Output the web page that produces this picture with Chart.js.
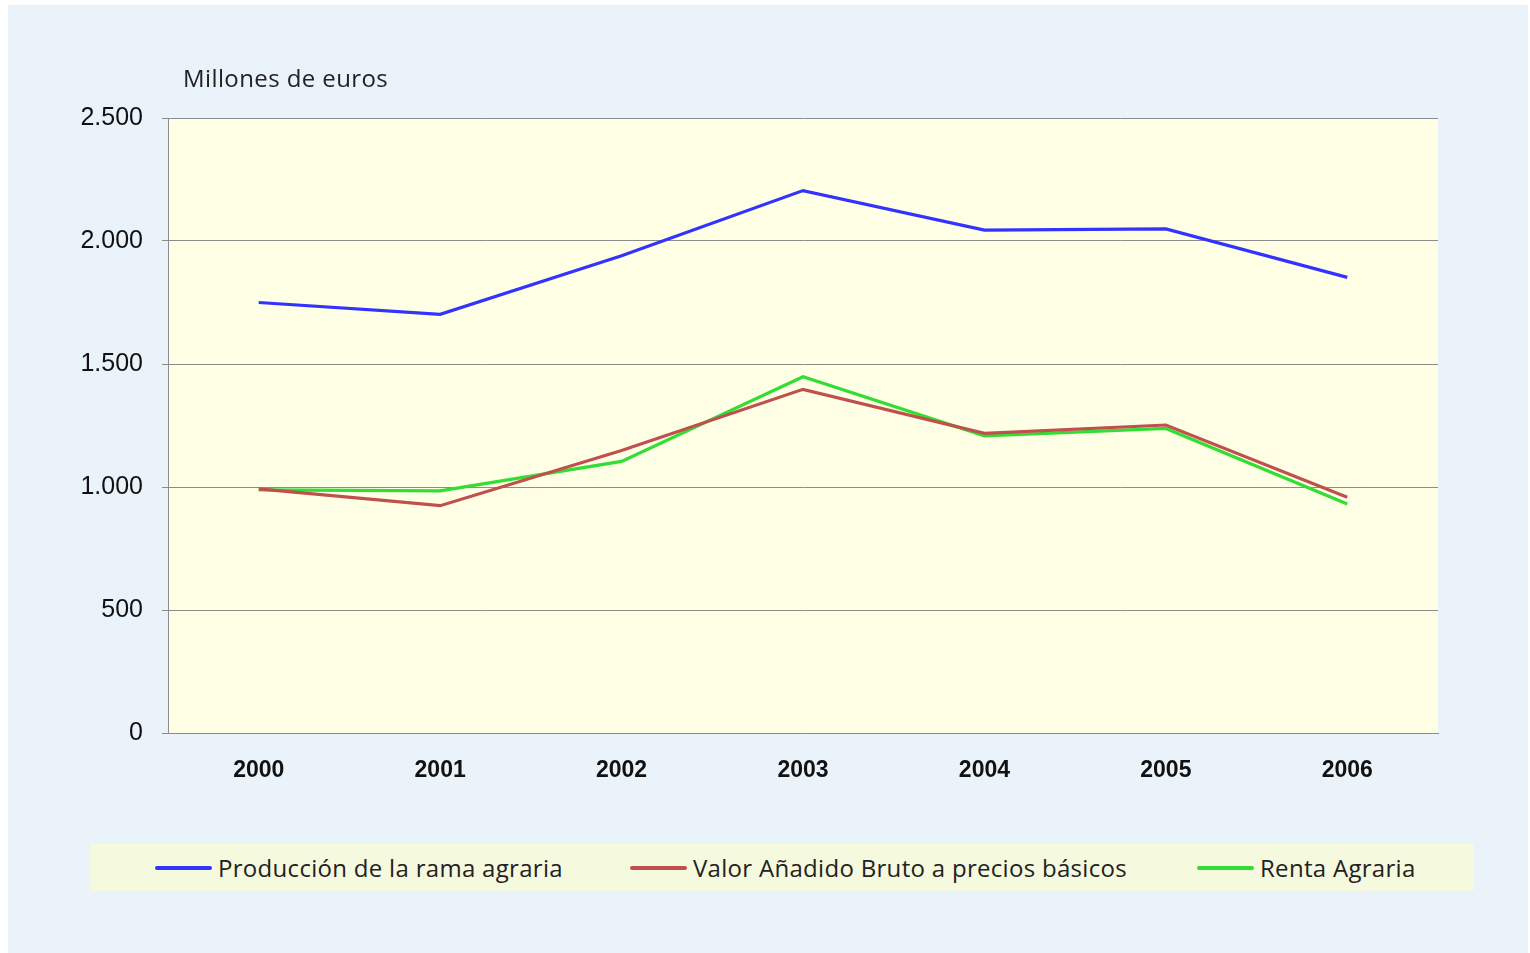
<!DOCTYPE html>
<html lang="es">
<head>
<meta charset="utf-8">
<title>Macromagnitudes agrarias 2000-2006</title>
<script src="https://cdn.jsdelivr.net/npm/chart.js@4.4.1/dist/chart.umd.min.js"></script>
<style>
  html, body { margin: 0; padding: 0; background: #ffffff; }
  body { width: 1530px; height: 953px; position: relative; overflow: hidden; }
  #panel { position: absolute; left: 8px; top: 5px; width: 1520px; height: 948px; background: #ebf3fa; }
  #panel canvas { position: absolute; left: 0; top: 0; }
  #unidad { position: absolute; left: 175px; top: 56px; font: 24px 'Open Sans', sans-serif; letter-spacing: 0.4px; color: #222; }
  #leyenda { position: absolute; left: 82px; top: 839px; width: 1384px; height: 47px; background: #f5f9de; }
  .item { position: absolute; top: 0; height: 47px; display: flex; align-items: center; font: 24px 'Open Sans', sans-serif; letter-spacing: 0.3px; color: #222; white-space: nowrap; }
  .item span.linea { display: inline-block; width: 57px; height: 4px; border-radius: 2px; margin-right: 6px; }
</style>
</head>
<body>
<div id="panel">
  <canvas id="grafico" width="1520" height="948"></canvas>
  <div id="unidad">Millones de euros</div>
  <div id="leyenda"></div>
</div>
<script>
const anos = ['2000', '2001', '2002', '2003', '2004', '2005', '2006'];
const produccion = [1750, 1702, 1940, 2205, 2044, 2049, 1852];
const vab = [992, 924, 1148, 1397, 1218, 1252, 958];
const renta = [988, 984, 1104, 1448, 1208, 1238, 931];
const nombres = ['Producción de la rama agraria', 'Valor Añadido Bruto a precios básicos', 'Renta Agraria'];
const colores = ['#3333ff', '#c0504d', '#33dd33'];
const ticksY = [0, 500, 1000, 1500, 2000, 2500];

function miles(v) {
  return String(v).replace(/\B(?=(\d{3})+(?!\d))/g, '.');
}

const fondoPlot = {
  id: 'fondoPlot',
  beforeDraw(chart) {
    const a = chart.chartArea;
    const c = chart.ctx;
    c.save();
    c.fillStyle = '#ffffe6';
    c.fillRect(a.left, a.top, a.right - a.left, a.bottom - a.top);
    c.restore();
  }
};

const series = [produccion, vab, renta];
const grafico = new Chart(document.getElementById('grafico'), {
  type: 'line',
  data: {
    labels: anos,
    datasets: series.map((d, i) => ({
      label: nombres[i],
      data: d,
      borderColor: colores[i],
      backgroundColor: colores[i],
      borderWidth: 3.2,
      pointRadius: 0,
      tension: 0,
      fill: false
    }))
  },
  options: {
    responsive: false,
    animation: false,
    layout: { padding: { left: 20, right: 90, top: 113, bottom: 160 } },
    plugins: {
      legend: { display: false },
      title: { display: false },
      tooltip: { enabled: false }
    },
    scales: {
      x: {
        offset: true,
        grid: { display: false, drawTicks: false },
        border: { display: true, color: '#8c8c8c', width: 1 },
        ticks: { color: '#111', padding: 24, font: { family: "'Liberation Sans', Arial, sans-serif", size: 23, weight: 'bold' } },
        afterFit(s) { s.height = 60; }
      },
      y: {
        min: 0,
        max: 2500,
        afterBuildTicks(s) { s.ticks = ticksY.map(v => ({ value: v })); },
        grid: { color: '#8c8c8c', lineWidth: 1, tickLength: 6 },
        border: { display: true, color: '#8c8c8c', width: 1 },
        ticks: {
          color: '#111',
          padding: 19,
          font: { family: "'Liberation Sans', Arial, sans-serif", size: 25 },
          callback: v => miles(v)
        },
        afterFit(s) { s.width = 140; }
      }
    }
  },
  plugins: [fondoPlot]
});

// leyenda en HTML a partir de los datasets
const leyenda = document.getElementById('leyenda');
const posiciones = [65, 540, 1107];
grafico.data.datasets.forEach((ds, i) => {
  const it = document.createElement('div');
  it.className = 'item';
  it.style.left = posiciones[i] + 'px';
  it.innerHTML = '<span class="linea" style="background:' + ds.borderColor + '"></span>' + ds.label;
  leyenda.appendChild(it);
});
</script>
</body>
</html>
